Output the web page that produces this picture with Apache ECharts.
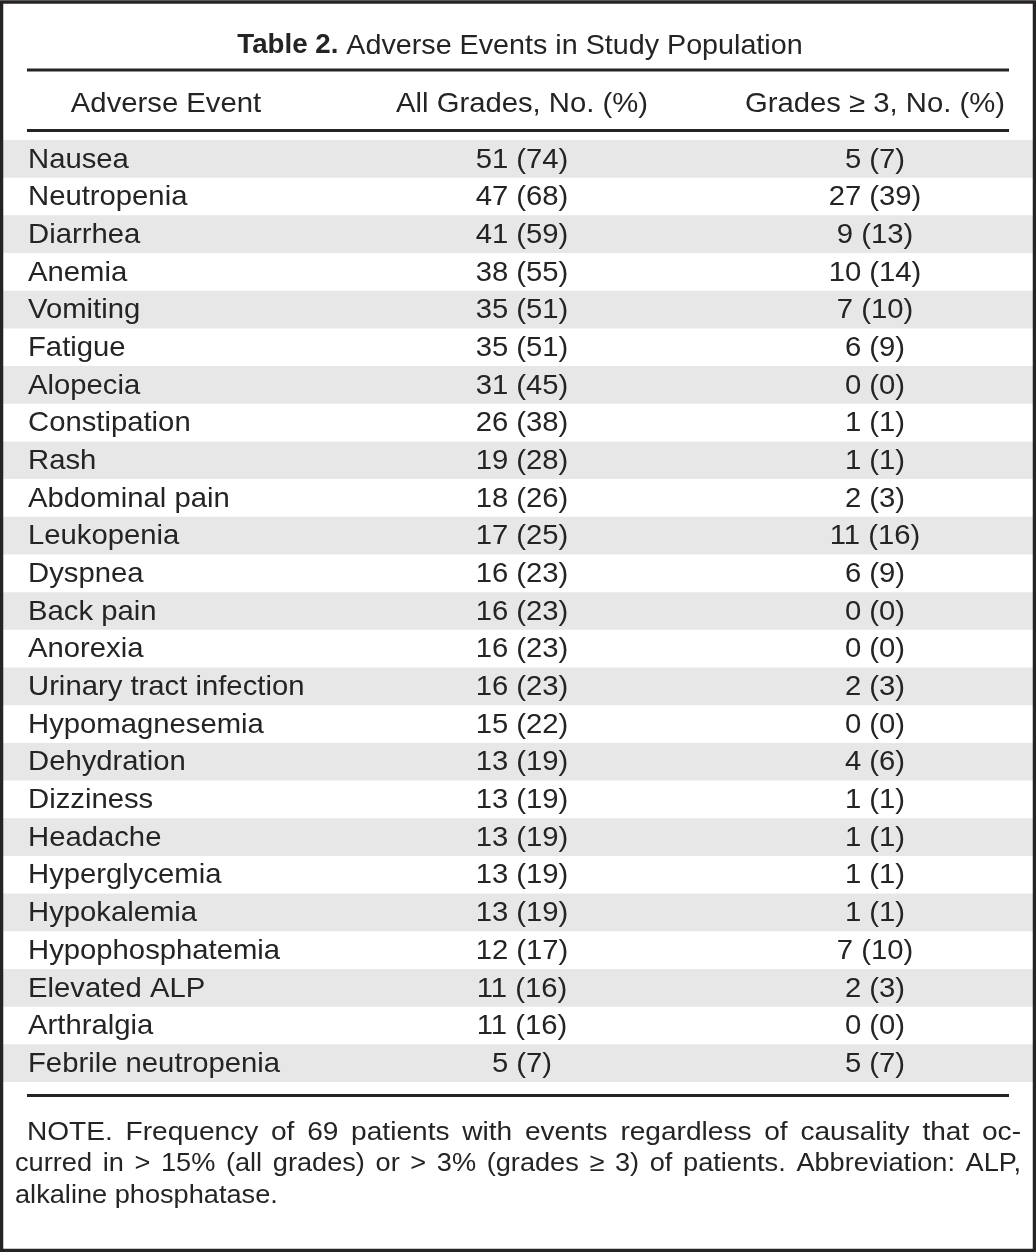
<!DOCTYPE html>
<html>
<head>
<meta charset="utf-8">
<style>
  html, body { margin: 0; padding: 0; background: #fff; }
  #chart { width: 1036px; height: 1252px; }
</style>
<script src="https://cdn.jsdelivr.net/npm/echarts@6/dist/echarts.min.js"></script>
</head>
<body>
<div id="chart"></div>
<script>
// ---------------- DATA ----------------
const events = [
  'Nausea', 'Neutropenia', 'Diarrhea', 'Anemia', 'Vomiting', 'Fatigue', 'Alopecia',
  'Constipation', 'Rash', 'Abdominal pain', 'Leukopenia', 'Dyspnea', 'Back pain',
  'Anorexia', 'Urinary tract infection', 'Hypomagnesemia', 'Dehydration', 'Dizziness',
  'Headache', 'Hyperglycemia', 'Hypokalemia', 'Hypophosphatemia', 'Elevated ALP',
  'Arthralgia', 'Febrile neutropenia'
];
const allGradesN   = [51, 47, 41, 38, 35, 35, 31, 26, 19, 18, 17, 16, 16, 16, 16, 15, 13, 13, 13, 13, 13, 12, 11, 11, 5];
const allGradesPct = [74, 68, 59, 55, 51, 51, 45, 38, 28, 26, 25, 23, 23, 23, 23, 22, 19, 19, 19, 19, 19, 17, 16, 16, 7];
const grade3N      = [5, 27, 9, 10, 7, 6, 0, 1, 1, 2, 11, 6, 0, 0, 2, 0, 4, 1, 1, 1, 1, 7, 2, 0, 5];
const grade3Pct    = [7, 39, 13, 14, 10, 9, 0, 1, 1, 3, 16, 9, 0, 0, 3, 0, 6, 1, 1, 1, 1, 10, 3, 0, 7];
const columnHeaders = ['Adverse Event', 'All Grades, No. (%)', 'Grades \u2265 3, No. (%)'];
const titleLabel = 'Table 2.';
const titleText = 'Adverse Events in Study Population';
const noteLines = [
  'NOTE. Frequency of 69 patients with events regardless of causality that oc-',
  'curred in > 15% (all grades) or > 3% (grades \u2265 3) of patients. Abbreviation: ALP,',
  'alkaline phosphatase.'
];

// ---------------- STYLE / LAYOUT ----------------
const FONT = '"Liberation Sans", Arial, sans-serif';
const INK = '#262324';
const SHADE = '#e6e7e6';
const FS = 28;
const SX = 1.045;          // horizontal stretch to mimic the wider typeface
const W = 1036, H = 1252;
const colX = { name: 28, all: 522, g3: 875 };
const ruleL = 27, ruleR = 1009;

const chart = echarts.init(document.getElementById('chart'), null, { renderer: 'canvas' });

const mctx = document.createElement('canvas').getContext('2d');
function measure(str, size, sx) {
  mctx.font = size + 'px ' + FONT;
  return mctx.measureText(str).width * sx;
}
function justifiedLine(str, x0, x1, y, size, justify, sx) {
  const words = str.split(' ');
  const ws = words.map(w => measure(w, size, sx));
  const sum = ws.reduce((a, b) => a + b, 0);
  const target = x1 - x0;
  const space = measure(' ', size, sx);
  let gap = justify ? (target - sum) / (words.length - 1) : space;
  let scale = 1;
  const minGap = space * 0.6;
  if (justify && gap < minGap) {
    gap = minGap;
    scale = target / (sum + minGap * (words.length - 1));
  }
  const els = [];
  let x = x0;
  words.forEach((w, i) => {
    els.push({
      type: 'text', x: x, y: y, scaleX: scale * sx, originX: 0,
      style: { text: w, font: size + 'px ' + FONT, fill: INK, align: 'left', verticalAlign: 'middle' },
      silent: true
    });
    x += (ws[i] + gap) * scale;
  });
  return els;
}
function txt(x, y, s, align) {
  return { type: 'text', x: x, y: y, scaleX: SX, silent: true,
    style: { text: s, font: FS + 'px ' + FONT, fill: INK, align: align, verticalAlign: 'middle' } };
}

const graphics = [];
graphics.push({ type: 'rect', shape: { x: 1.5, y: 2, width: W - 3, height: H - 3.5 },
  style: { fill: 'none', stroke: INK, lineWidth: 3.5 }, silent: true, z: 10 });
graphics.push({ type: 'text', x: 520, y: 46, scaleX: 1.025, silent: true,
  style: {
    text: '{b|' + titleLabel + '} ' + titleText,
    rich: { b: { font: 'bold 27px ' + FONT, fill: INK } },
    font: FS + 'px ' + FONT, fill: INK, align: 'center', verticalAlign: 'middle'
  } });
[70, 130.5, 1095.5].forEach(y => graphics.push({ type: 'line', silent: true,
  shape: { x1: ruleL, y1: y, x2: ruleR, y2: y }, style: { stroke: INK, lineWidth: 3 } }));
graphics.push(txt(166, 104, columnHeaders[0], 'center'));
graphics.push(txt(colX.all, 104, columnHeaders[1], 'center'));
graphics.push(txt(colX.g3, 104, columnHeaders[2], 'center'));
const NFS = 26;
justifiedLine(noteLines[0], 27, 1021, 1133, NFS, true, 1.08).forEach(e => graphics.push(e));
justifiedLine(noteLines[1], 15, 1021, 1164, NFS, true, SX).forEach(e => graphics.push(e));
justifiedLine(noteLines[2], 15, 1021, 1196, NFS, false, SX).forEach(e => graphics.push(e));

const rowData = events.map((e, i) => [i]);

chart.setOption({
  animation: false,
  backgroundColor: '#ffffff',
  grid: { left: 3, right: 3, top: 140, height: 942, containLabel: false },
  xAxis: { type: 'value', min: 3, max: 1033, show: false },
  yAxis: { type: 'category', data: events, inverse: true, show: false },
  graphic: graphics,
  series: [{
    type: 'custom',
    data: rowData,
    encode: { y: 0 },
    renderItem: function (params, api) {
      const i = api.value(0);
      const c = api.coord([colX.name, i]);
      const h = api.size([0, 1])[1];
      const cs = params.coordSys;
      const y = c[1];
      const children = [];
      if (i % 2 === 0) {
        children.push({ type: 'rect', shape: { x: cs.x, y: y - h / 2, width: cs.width, height: h },
          style: { fill: SHADE } });
      }
      const f = FS + 'px ' + FONT;
      const t = (x, s, al) => ({ type: 'text', x: x, y: y + 1, scaleX: SX,
        style: { text: s, font: f, fill: INK, align: al, verticalAlign: 'middle' } });
      children.push(t(c[0], events[i], 'left'));
      children.push(t(api.coord([colX.all, i])[0], allGradesN[i] + ' (' + allGradesPct[i] + ')', 'center'));
      children.push(t(api.coord([colX.g3, i])[0], grade3N[i] + ' (' + grade3Pct[i] + ')', 'center'));
      return { type: 'group', children: children };
    }
  }]
});
</script>
</body>
</html>
